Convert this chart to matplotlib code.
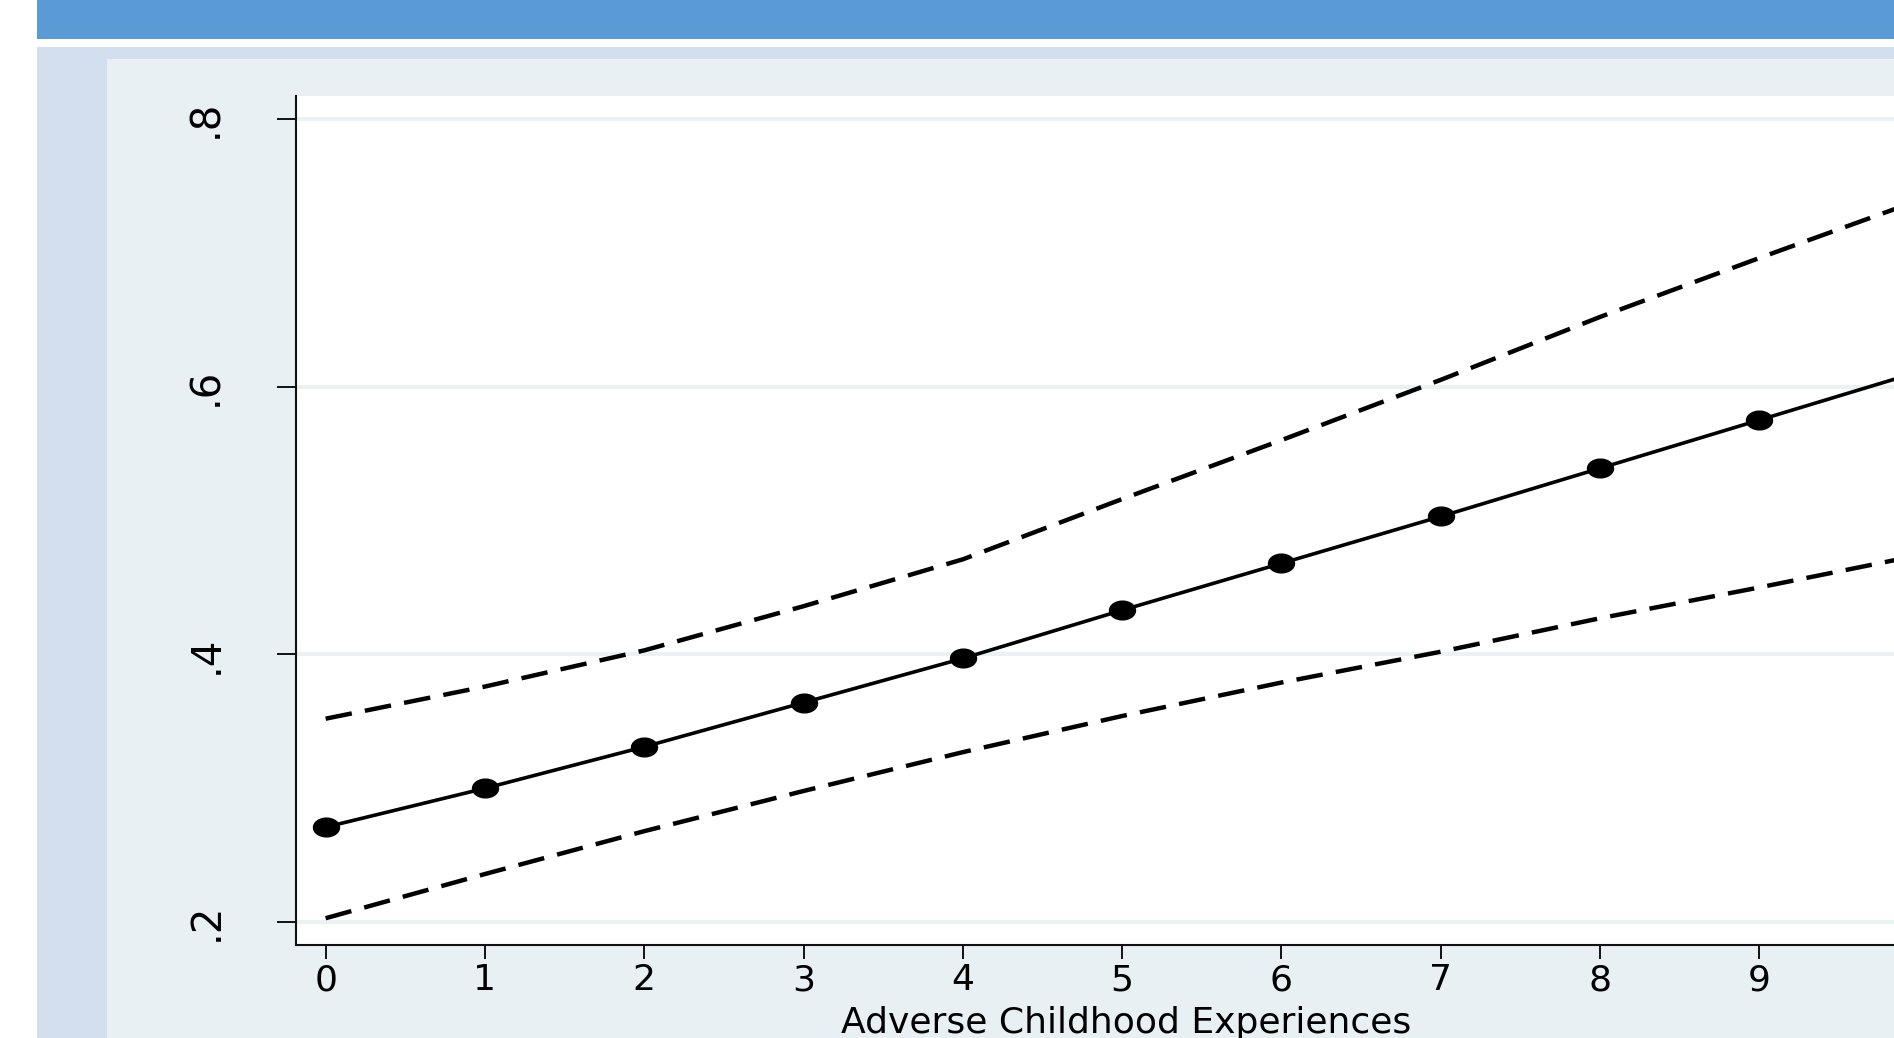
import numpy as np
import matplotlib.pyplot as plt
from matplotlib.patches import Rectangle
from matplotlib.path import Path
from matplotlib.transforms import Affine2D

# predicted probability (margins) with 95% CI, by number of ACEs
aces = [0, 1, 2, 3, 4, 5, 6, 7, 8, 9, 10]
margin = [0.271, 0.300, 0.331, 0.364, 0.397, 0.433, 0.468, 0.503, 0.539, 0.575, 0.611]
ci_upper = [0.352, 0.376, 0.403, 0.436, 0.471, 0.516, 0.560, 0.605, 0.652, 0.696, 0.739]
ci_lower = [0.203, 0.236, 0.268, 0.298, 0.327, 0.354, 0.379, 0.402, 0.427, 0.450, 0.474]

xticks = [0, 1, 2, 3, 4, 5, 6, 7, 8, 9]
yticks = [0.2, 0.4, 0.6, 0.8]
ytick_labels = [".2", ".4", ".6", ".8"]
xlabel = "Adverse Childhood Experiences"

W, H = 1894, 1038
plt.rcParams['font.family'] = ['DejaVu Sans']

fig = plt.figure(figsize=(W / 100, H / 100), dpi=100)
fig.patch.set_facecolor('white')


def px_rect(x0, y0, x1, y1, color):
    # rectangle given in screen pixels (origin top-left)
    return Rectangle((x0 / W, 1 - y1 / H), (x1 - x0) / W, (y1 - y0) / H,
                     transform=fig.transFigure, facecolor=color, lw=0, zorder=-2)


# slide decoration: header bar, frame, stata graph region
fig.add_artist(px_rect(37, 0, W, 39, '#5b9bd5'))
fig.add_artist(px_rect(37, 47, W, H, '#d3deef'))
fig.add_artist(px_rect(107, 59, W, H, '#e8f0f3'))

ax_top, ax_bottom = 96, 945
ax = fig.add_axes([295.7 / W, (H - ax_bottom) / H, (1956 - 295.7) / W, (ax_bottom - ax_top) / H])
ax.set_facecolor('white')
ax.set_xlim(-0.188, 10.235)
ax.set_ylim(0.183, 0.817)

for s in ['top', 'right']:
    ax.spines[s].set_visible(False)
for s in ['left', 'bottom']:
    ax.spines[s].set_linewidth(1.5)
    ax.spines[s].set_color('#111111')

ax.set_axisbelow(True)
ax.grid(axis='y', color='#eaf2f3', lw=2.8)

ax.plot(aces, ci_upper, color='black', lw=3.2, dashes=(6.0, 3.0))
ax.plot(aces, ci_lower, color='black', lw=3.2, dashes=(6.0, 3.0))

ellipse = Path.unit_circle().transformed(Affine2D().scale(1, 0.72))
ax.plot(aces, margin, color='black', lw=2.6, marker=ellipse, ms=18.7,
        mfc='black', mec='black')

ax.set_xticks(xticks)
ax.set_xticklabels([str(t) for t in xticks])
ax.set_yticks(yticks)
ax.set_yticklabels(ytick_labels, rotation=90, va='center')
ax.tick_params(axis='y', length=13.7, width=1.4, pad=36, labelsize=29, color='#111111')
ax.tick_params(axis='x', length=10, width=1.4, pad=3, labelsize=26, color='#111111')

# x title sits right under the tick labels, bottom edge runs off the slide as in the source
ax.set_xlabel(xlabel, fontsize=26, va='top')
ax.xaxis.set_label_coords(0.5, (ax_bottom - 1006) / (ax_bottom - ax_top))

fig.savefig('out.png', dpi=100)
